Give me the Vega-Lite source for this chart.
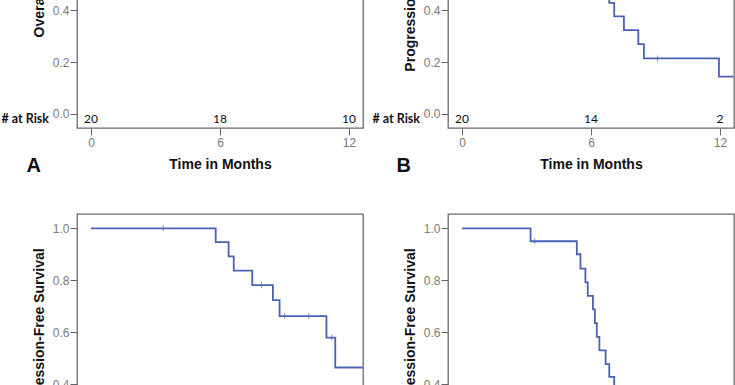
{
  "$schema": "https://vega.github.io/schema/vega-lite/v6.json",
  "background": "white",
  "padding": {"top": -161, "left": 0, "right": 0, "bottom": 0},
  "datasets": {
    "riskA": [{"time": 0, "n": 20}, {"time": 6, "n": 18}, {"time": 12, "n": 10}],
    "riskB": [{"time": 0, "n": 20}, {"time": 6, "n": 14}, {"time": 12, "n": 2}],
    "pfsC": [
      {"time": 0, "surv": 1, "censor": 0},
      {"time": 3.36, "surv": 1, "censor": 1},
      {"time": 5.8, "surv": 0.947, "censor": 0},
      {"time": 6.4, "surv": 0.892, "censor": 0},
      {"time": 6.64, "surv": 0.837, "censor": 0},
      {"time": 7.5, "surv": 0.781, "censor": 0},
      {"time": 7.93, "surv": 0.781, "censor": 1},
      {"time": 8.46, "surv": 0.723, "censor": 0},
      {"time": 8.77, "surv": 0.662, "censor": 0},
      {"time": 9.01, "surv": 0.662, "censor": 1},
      {"time": 10.13, "surv": 0.662, "censor": 1},
      {"time": 10.95, "surv": 0.579, "censor": 0},
      {"time": 11.2, "surv": 0.579, "censor": 1},
      {"time": 11.36, "surv": 0.464, "censor": 0},
      {"time": 12.64, "surv": 0.464, "censor": 0}
    ],
    "pfsBD": [
      {"time": 0, "surv": 1, "censor": 0},
      {"time": 3.19, "surv": 0.95, "censor": 0},
      {"time": 3.38, "surv": 0.95, "censor": 1},
      {"time": 5.34, "surv": 0.9, "censor": 0},
      {"time": 5.51, "surv": 0.845, "censor": 0},
      {"time": 5.74, "surv": 0.792, "censor": 0},
      {"time": 5.85, "surv": 0.74, "censor": 0},
      {"time": 6.09, "surv": 0.688, "censor": 0},
      {"time": 6.18, "surv": 0.635, "censor": 0},
      {"time": 6.27, "surv": 0.582, "censor": 0},
      {"time": 6.39, "surv": 0.53, "censor": 0},
      {"time": 6.68, "surv": 0.477, "censor": 0},
      {"time": 6.85, "surv": 0.428, "censor": 0},
      {"time": 7.08, "surv": 0.376, "censor": 0},
      {"time": 7.53, "surv": 0.323, "censor": 0},
      {"time": 8.2, "surv": 0.269, "censor": 0},
      {"time": 8.46, "surv": 0.214, "censor": 0},
      {"time": 9.09, "surv": 0.214, "censor": 1},
      {"time": 11.95, "surv": 0.144, "censor": 0},
      {"time": 12.62, "surv": 0.144, "censor": 0}
    ]
  },
  "columns": 2,
  "spacing": {"row": 36, "column": 3},
  "concat": [
    {
      "width": 286, "height": 288,
      "title": {"text": "A", "orient": "bottom", "anchor": "start", "frame": "bounds", "dx": 25, "offset": -15},
      "layer": [
        {
          "data": {"name": "riskA"},
          "mark": {"type": "text", "font": "Lato", "fontSize": 12, "color": "#111", "baseline": "middle"},
          "encoding": {
            "x": {"field": "time", "type": "quantitative", "scale": {"domain": [-0.65, 12.65], "nice": false, "zero": false}, "axis": {"values": [0, 6, 12], "title": "Time in Months"}},
            "y": {"datum": -0.02, "type": "quantitative", "scale": {"domain": [-0.054, 1.055], "nice": false, "zero": false}, "axis": {"values": [0, 0.2, 0.4, 0.6, 0.8, 1], "format": ".1f", "title": "Overall Survival"}},
            "text": {"field": "n"}
          }
        },
        {
          "data": {"values": [{"label": "# at Risk"}]},
          "mark": {"type": "text", "font": "Lato", "fontWeight": "bold", "fontSize": 12.5, "color": "#111", "align": "right", "baseline": "middle", "dx": -28},
          "encoding": {"x": {"datum": -0.65}, "y": {"datum": -0.02}, "text": {"field": "label"}}
        }
      ]
    },
    {
      "width": 286, "height": 288,
      "title": {"text": "B", "orient": "bottom", "anchor": "start", "frame": "bounds", "dx": 24, "offset": -15},
      "layer": [
        {
          "data": {"name": "pfsBD"},
          "mark": {"type": "line", "interpolate": "step-after", "color": "#4a62b5", "strokeWidth": 1.8},
          "encoding": {
            "x": {"field": "time", "type": "quantitative", "scale": {"domain": [-0.65, 12.65], "nice": false, "zero": false}, "axis": {"values": [0, 6, 12], "title": "Time in Months"}},
            "y": {"field": "surv", "type": "quantitative", "scale": {"domain": [-0.054, 1.055], "nice": false, "zero": false}, "axis": {"values": [0, 0.2, 0.4, 0.6, 0.8, 1], "format": ".1f", "title": "Progression-Free Survival"}}
          }
        },
        {
          "data": {"name": "pfsBD"},
          "transform": [{"filter": "datum.censor == 1"}],
          "mark": {"type": "tick", "orient": "vertical", "size": 6, "thickness": 1, "color": "#4a62b5"},
          "encoding": {"x": {"field": "time", "type": "quantitative"}, "y": {"field": "surv", "type": "quantitative"}}
        },
        {
          "data": {"name": "riskB"},
          "mark": {"type": "text", "font": "Lato", "fontSize": 12, "color": "#111", "baseline": "middle"},
          "encoding": {"x": {"field": "time", "type": "quantitative"}, "y": {"datum": -0.02}, "text": {"field": "n"}}
        },
        {
          "data": {"values": [{"label": "# at Risk"}]},
          "mark": {"type": "text", "font": "Lato", "fontWeight": "bold", "fontSize": 12.5, "color": "#111", "align": "right", "baseline": "middle", "dx": -28},
          "encoding": {"x": {"datum": -0.65}, "y": {"datum": -0.02}, "text": {"field": "label"}}
        }
      ]
    },
    {
      "width": 286, "height": 288,
      "layer": [
        {
          "data": {"name": "pfsC"},
          "mark": {"type": "line", "interpolate": "step-after", "color": "#4a62b5", "strokeWidth": 1.8},
          "encoding": {
            "x": {"field": "time", "type": "quantitative", "scale": {"domain": [-0.65, 12.65], "nice": false, "zero": false}, "axis": {"values": [0, 6, 12], "title": "Time in Months"}},
            "y": {"field": "surv", "type": "quantitative", "scale": {"domain": [-0.054, 1.055], "nice": false, "zero": false}, "axis": {"values": [0, 0.2, 0.4, 0.6, 0.8, 1], "format": ".1f", "title": "Progression-Free Survival", "titleY": 121}}
          }
        },
        {
          "data": {"name": "pfsC"},
          "transform": [{"filter": "datum.censor == 1"}],
          "mark": {"type": "tick", "orient": "vertical", "size": 6, "thickness": 1, "color": "#4a62b5"},
          "encoding": {"x": {"field": "time", "type": "quantitative"}, "y": {"field": "surv", "type": "quantitative"}}
        }
      ]
    },
    {
      "width": 286, "height": 288,
      "layer": [
        {
          "data": {"name": "pfsBD"},
          "mark": {"type": "line", "interpolate": "step-after", "color": "#4a62b5", "strokeWidth": 1.8},
          "encoding": {
            "x": {"field": "time", "type": "quantitative", "scale": {"domain": [-0.65, 12.65], "nice": false, "zero": false}, "axis": {"values": [0, 6, 12], "title": "Time in Months"}},
            "y": {"field": "surv", "type": "quantitative", "scale": {"domain": [-0.054, 1.055], "nice": false, "zero": false}, "axis": {"values": [0, 0.2, 0.4, 0.6, 0.8, 1], "format": ".1f", "title": "Progression-Free Survival", "titleY": 121}}
          }
        },
        {
          "data": {"name": "pfsBD"},
          "transform": [{"filter": "datum.censor == 1"}],
          "mark": {"type": "tick", "orient": "vertical", "size": 6, "thickness": 1, "color": "#4a62b5"},
          "encoding": {"x": {"field": "time", "type": "quantitative"}, "y": {"field": "surv", "type": "quantitative"}}
        }
      ]
    }
  ],
  "config": {
    "view": {"stroke": "#6a6a6a", "strokeWidth": 1.3},
    "axis": {
      "domain": false, "grid": false,
      "tickColor": "#666", "tickSize": 7, "tickWidth": 1,
      "labelColor": "#7a7a7a", "labelFont": "Liberation Sans", "labelFontSize": 12, "labelPadding": 1,
      "titleFont": "Liberation Sans", "titleFontSize": 14, "titleFontWeight": "bold", "titleColor": "#111"
    },
    "axisX": {"labelPadding": 2, "titlePadding": 9},
    "axisY": {"titlePadding": 6},
    "title": {"font": "Liberation Sans", "fontSize": 20, "fontWeight": "bold", "color": "#111"}
  }
}
